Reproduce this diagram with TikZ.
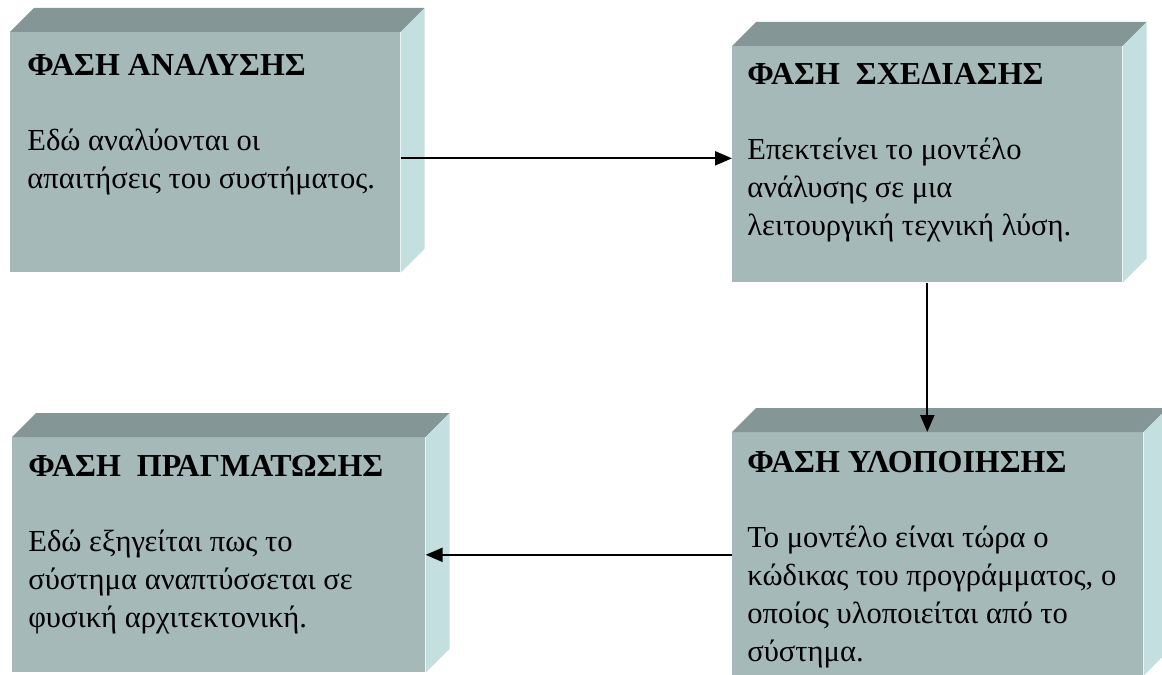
\documentclass[tikz,border=0pt]{standalone}
\usepackage{fontspec}
\setmainfont{Liberation Serif}
\usepackage{tikz}
\usetikzlibrary{arrows.meta,positioning,calc}
\definecolor{facefront}{RGB}{166,185,185}
\definecolor{facetop}{RGB}{132,150,150}
\definecolor{faceside}{RGB}{196,223,224}
\tikzset{
  front/.style ={rectangle, fill=facefront, draw=none, anchor=north west, inner sep=0pt},
  topface/.style ={fill=facetop},
  sideface/.style={fill=faceside},
  phasetxt/.style={anchor=north west, align=left, inner sep=0pt,
                   font=\fontsize{17.4}{21.6}\selectfont},
  flow/.style  ={-{Triangle[length=0.34cm,width=0.28cm]}, line width=1.2pt, draw=black}
}
% top and right faces of a block, drawn from its front node
\newcommand{\blockfaces}[1]{%
  \fill[topface] (#1.north west) -- ++(24,-24) -- ([shift={(24,-24)}]#1.north east)
    -- (#1.north east) -- cycle;
  \fill[sideface] (#1.north east) -- ++(24,-24) -- ([shift={(24,-24)}]#1.south east)
    -- (#1.south east) -- cycle;
}
\newcommand{\phasetitle}[1]{{\fontsize{18.2}{21.6}\selectfont\bfseries #1}}
\begin{document}
\begin{tikzpicture}[x=0.02cm, y=-0.02cm]
\useasboundingbox (0,0) rectangle (1162,675);
% front faces
\node[front, minimum width=7.8cm, minimum height=4.8cm] (ana) at (10,32) {};
\node[front, minimum width=7.8cm, minimum height=4.72cm] (sch) at (732,46) {};
\node[front, minimum width=8.26cm, minimum height=4.7cm] (real) at (12,437) {};
\node[front, minimum width=8.22cm, minimum height=4.86cm] (imp) at (732,432) {};
\blockfaces{ana}
\blockfaces{sch}
\blockfaces{real}
\blockfaces{imp}
% texts
\node[phasetxt] (anatxt) at ([shift={(17,22)}]ana.north west)
  {\phasetitle{ΦΑΣΗ ΑΝΑΛΥΣΗΣ}\\[0.74cm]
   Εδώ αναλύονται οι\\ απαιτήσεις του συστήματος.};
\node[phasetxt] (schtxt) at ([shift={(15,17)}]sch.north west)
  {\phasetitle{ΦΑΣΗ\ \ ΣΧΕΔΙΑΣΗΣ}\\[0.74cm]
   Επεκτείνει το μοντέλο\\ ανάλυσης σε μια\\ λειτουργική τεχνική λύση.};
\node[phasetxt] (realtxt) at ([shift={(16,18)}]real.north west)
  {\phasetitle{ΦΑΣΗ\ \ ΠΡΑΓΜΑΤΩΣΗΣ}\\[0.74cm]
   Εδώ εξηγείται πως το\\ σύστημα αναπτύσσεται σε\\ φυσική αρχιτεκτονική.};
\node[phasetxt] (imptxt) at ([shift={(15,19)}]imp.north west)
  {\phasetitle{ΦΑΣΗ ΥΛΟΠΟΙΗΣΗΣ}\\[0.74cm]
   Το μοντέλο είναι τώρα ο\\ κώδικας του προγράμματος, ο\\ οποίος υλοποιείται από το\\ σύστημα.};
% connectors
\draw[flow] (ana.east) ++(0,6) coordinate (a1) -- (a1 -| sch.west);
\draw[flow] (sch.south) -- (sch.south |- imp.north);
\draw[flow] (imp.west |- real.east) -- (real.east);
\end{tikzpicture}
\end{document}
